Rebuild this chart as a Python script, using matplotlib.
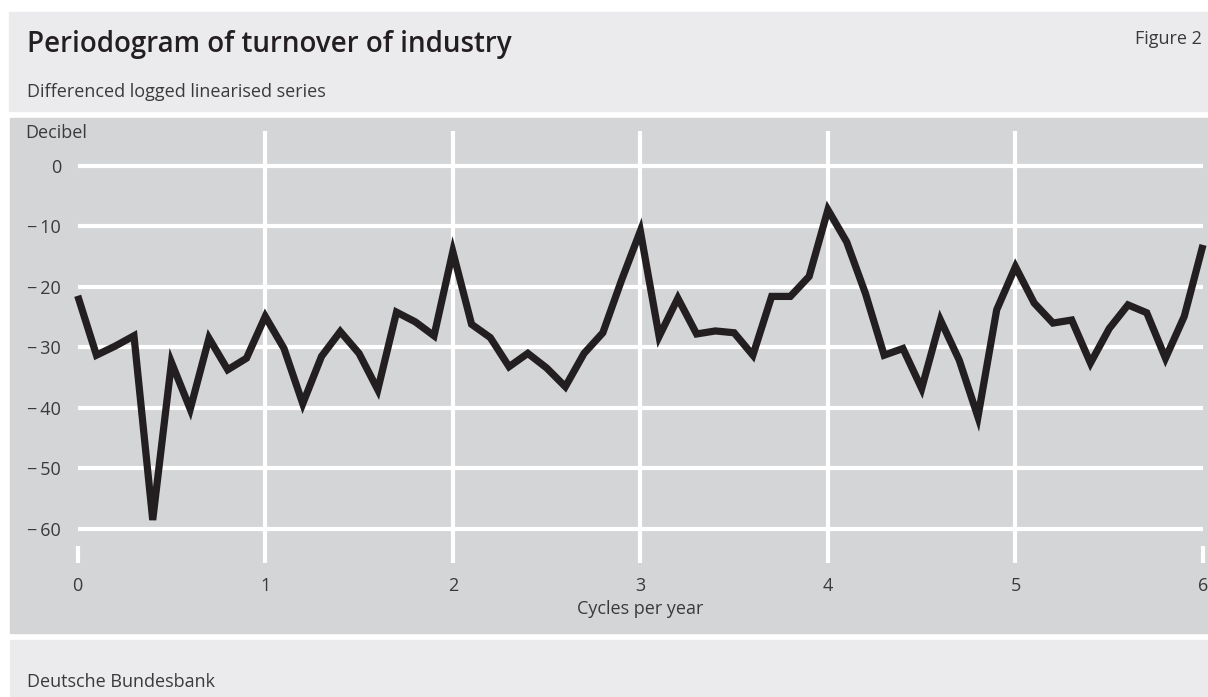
import numpy as np
import matplotlib
matplotlib.use("Agg")
import matplotlib.pyplot as plt
from matplotlib.patches import Rectangle

plt.rcParams['font.family'] = ['Open Sans', 'DejaVu Sans']

# periodogram, 0.1 cycles per year apart
freq = np.round(np.arange(61) * 0.1, 1)
decibel = [
    -21.5, -31.3, -29.8, -28.1, -58.5, -32.5, -40.2, -28.5, -33.7, -31.8,
    -24.9, -30.2, -39.3, -31.5, -27.4, -31.0, -37.0, -24.2, -25.8, -28.1,
    -14.2, -26.2, -28.4, -33.2, -31.0, -33.4, -36.5, -31.0, -27.6, -18.9,
    -10.8, -28.2, -21.9, -27.8, -27.3, -27.6, -31.3, -21.6, -21.6, -18.3,
    -7.3, -12.6, -21.1, -31.3, -30.2, -36.8, -25.5, -32.1, -41.5, -23.8,
    -16.7, -22.7, -26.0, -25.5, -32.6, -26.9, -23.0, -24.3, -31.8, -24.9,
    -13.1,
]
yticks = [0, -10, -20, -30, -40, -50, -60]
xticks = [0, 1, 2, 3, 4, 5, 6]

W, H = 1208, 697
fig = plt.figure(figsize=(W / 100, H / 100), dpi=100)
fig.patch.set_facecolor('white')


def px(x, y):
    return x / W, 1 - y / H


def panel(x0, y0, x1, y1, color):
    fx, fy = px(x0, y1)
    fig.patches.append(Rectangle((fx, fy), (x1 - x0) / W, (y1 - y0) / H,
                                 transform=fig.transFigure, color=color, zorder=-5))


panel(9, 12, 1208, 111, '#ebebed')
panel(10, 118, 1208, 633, '#d4d5d7')
panel(10, 640, 1208, 697, '#ebebed')

txt = '#231f20'
grey = '#3a3a3c'
fs = 13
fig.text(*px(27, 52), 'Periodogram of turnover of industry', fontsize=20,
         fontweight='semibold', color=txt, va='baseline')
fig.text(*px(1202, 44), 'Figure 2', fontsize=fs, color=grey,
         ha='right', va='baseline')
fig.text(*px(27, 97), 'Differenced logged linearised series', fontsize=fs,
         color=grey, va='baseline')
fig.text(*px(25, 138), 'Decibel', fontsize=fs, color=grey, va='baseline')
fig.text(*px(27, 687), 'Deutsche Bundesbank', fontsize=fs, color=grey,
         va='baseline')

# axes: x 0..6 -> 77.7..1203 px, y limits set from the gridline ends
ymax, ymin = 5.7, -65.6
l, b = px(77.7, 563)
ax = fig.add_axes([l, b, (1203 - 77.7) / W, (563 - 131) / H])
ax.set_xlim(0, 6)
ax.set_ylim(ymin, ymax)
ax.patch.set_visible(False)
for s in ax.spines.values():
    s.set_visible(False)

for y in yticks:
    ax.plot([0, 6], [y, y], color='white', lw=3, solid_capstyle='butt',
            zorder=1, clip_on=False)
for x in xticks:
    top = ymax if 0 < x < 6 else -62.8
    ax.plot([x, x], [ymin, top], color='white', lw=3, solid_capstyle='butt',
            zorder=1, clip_on=False)

ax.plot(freq, decibel, color='#231f20', lw=5.2, solid_joinstyle='miter',
        solid_capstyle='butt', zorder=3, clip_on=False)

ax.set_yticks(yticks)
ax.set_yticklabels(['0' if v == 0 else '\u2212\u2009' + str(abs(v)) for v in yticks])
ax.set_xticks(xticks)
ax.set_xticklabels([str(v) for v in xticks])
ax.tick_params(length=0, labelsize=fs, labelcolor=grey)
ax.tick_params(axis='y', pad=12)
ax.tick_params(axis='x', pad=10)
ax.set_xlabel('Cycles per year', fontsize=fs, color=grey, labelpad=4)

fig.savefig('out.png', dpi=100)
